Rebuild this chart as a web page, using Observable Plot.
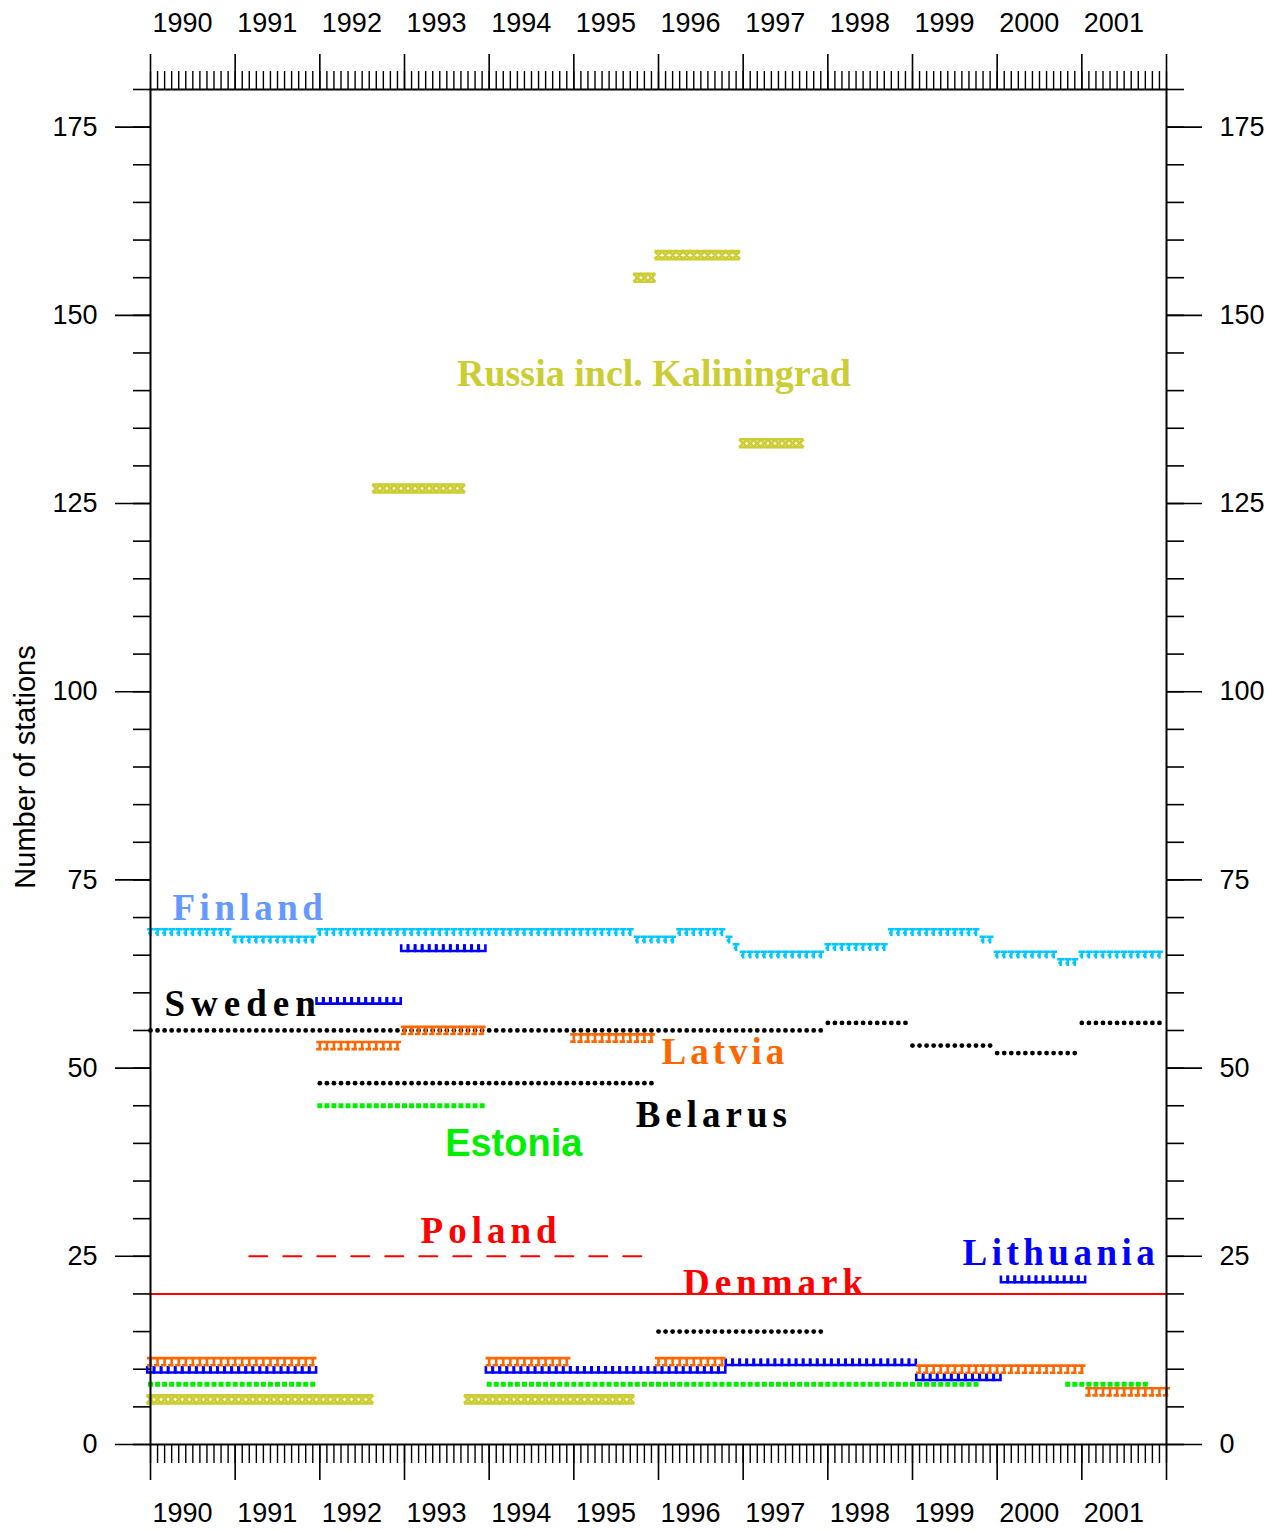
<!DOCTYPE html>
<html>
<head>
<meta charset="utf-8">
<script src="https://cdn.jsdelivr.net/npm/d3@7"></script>
<script src="https://cdn.jsdelivr.net/npm/@observablehq/plot@0.6"></script>
<style>
  body { margin: 0; background: #fff; }
  .sp4 text { letter-spacing: 4px; }
  .sp45 text { letter-spacing: 4.5px; }
  .sp5 text { letter-spacing: 5px; }
  .sp6 text { letter-spacing: 6px; }
</style>
</head>
<body>
<div id="chart"></div>
<script>
// Monthly station counts, one run per [first month, last month, stations]
const finland = [
  ["1990-01", "1990-12", 68], ["1991-01", "1991-12", 67], ["1992-01", "1995-09", 68],
  ["1995-10", "1996-03", 67], ["1996-04", "1996-10", 68], ["1996-11", "1996-11", 67],
  ["1996-12", "1996-12", 66], ["1997-01", "1997-12", 65], ["1998-01", "1998-09", 66],
  ["1998-10", "1999-10", 68], ["1999-11", "1999-12", 67], ["2000-01", "2000-09", 65],
  ["2000-10", "2000-12", 64], ["2001-01", "2001-12", 65]
];
const sweden = [
  ["1990-01", "1997-12", 55], ["1998-01", "1998-12", 56], ["1999-01", "1999-12", 53],
  ["2000-01", "2000-12", 52], ["2001-01", "2001-12", 56]
];
const belarus = [
  ["1992-01", "1995-12", 48], ["1996-01", "1997-12", 15]
];
const estonia = [
  ["1990-01", "1991-12", 8], ["1992-01", "1993-12", 45], ["1994-01", "1999-10", 8],
  ["2000-11", "2001-10", 8]
];
const latvia = [
  ["1990-01", "1991-12", 11], ["1992-01", "1992-12", 53], ["1993-01", "1993-12", 55],
  ["1994-01", "1994-12", 11], ["1995-01", "1995-12", 54], ["1996-01", "1996-10", 11],
  ["1999-02", "2001-01", 10], ["2001-02", "2002-01", 7]
];
const lithuania = [
  ["1990-01", "1991-12", 10], ["1992-01", "1992-12", 59], ["1993-01", "1993-12", 66],
  ["1994-01", "1996-10", 10], ["1996-11", "1999-01", 11], ["1999-02", "2000-01", 9],
  ["2000-02", "2001-01", 22]
];
const russia = [
  ["1990-01", "1992-08", 6], ["1992-09", "1993-09", 127], ["1993-10", "1995-09", 6],
  ["1995-10", "1995-12", 155], ["1996-01", "1996-12", 158], ["1997-01", "1997-09", 133]
];
const poland = [["1991-03", "1995-11", 25]];
const denmark = [["1990-01", "2002-01", 20]];

// Axis ticks
const years = d3.range(1990, 2002);
const yearEdges = d3.range(1990, 2003);
const monthTicks = d3.range(0, 145).map(k => 1990 + k / 12);
const yMajor = [0, 25, 50, 75, 100, 125, 150, 175];
const yMinor = d3.range(0, 181, 5);

// Country names and where each name sits (decimal year, stations)
const names = ["Finland", "Sweden", "Latvia", "Belarus", "Estonia", "Poland", "Denmark", "Lithuania", "Russia incl. Kaliningrad"];
const nameAt = [
  [1990.26, 69.7], [1990.165, 56.9], [1996.035, 50.5], [1995.73, 42.2], [1993.48, 38.3],
  [1993.19, 26.8], [1996.29, 19.8], [1999.59, 23.9], [1993.62, 140.6]
];

// Expand monthly runs into one point per month
function expand(runs) {
  const out = [];
  for (const [a, b, v] of runs) {
    const [ya, ma] = a.split("-").map(Number);
    const [yb, mb] = b.split("-").map(Number);
    for (let k = ya * 12 + ma - 1; k <= yb * 12 + mb - 1; k++) out.push({t: k / 12, value: v});
  }
  return out;
}

// Small stroked glyph markers
const glyph = path => ({draw(c, size) { path(c, Math.sqrt(size / Math.PI)); }});
const tGlyph = glyph((c, h) => {
  c.moveTo(-h, -h); c.lineTo(h, -h);
  c.moveTo(0, -h); c.lineTo(0, h);
  c.moveTo(-h * 0.7, h * 0.1); c.lineTo(h * 0.3, h * 0.1);
});
const iGlyph = glyph((c, h) => {
  c.moveTo(-h, -h); c.lineTo(h, -h);
  c.moveTo(0, -h); c.lineTo(0, h);
  c.moveTo(-h, h); c.lineTo(h * 0.5, h);
});
const uGlyph = glyph((c, h) => {
  c.moveTo(-h, -h); c.lineTo(-h, h); c.lineTo(h, h); c.lineTo(h, -h);
});
const xGlyph = glyph((c, h) => {
  c.moveTo(-h, -h); c.lineTo(h, h);
  c.moveTo(h, -h); c.lineTo(-h, h);
  c.moveTo(-h, -h); c.lineTo(h, -h);
  c.moveTo(-h, h); c.lineTo(h, h);
});

const C = {
  finland: "#00c8ff", finlandName: "#6699ff", latvia: "#ff6600", lithuania: "#0000ff",
  estonia: "#00ee00", russia: "#cccc33", red: "#ff0000", black: "#000000"
};
const serif = "'Liberation Serif', 'Times New Roman', serif";
const sans = "'Liberation Sans', Arial, sans-serif";

const glyphDots = (runs, symbol, color, r = 3.3, sw = 2.4) =>
  Plot.dot(expand(runs), {x: "t", y: "value", symbol, r, stroke: color, strokeWidth: sw, fill: "none"});

const nameMark = (i, color, family, cls, size = 37) =>
  Plot.text([i], {
    x: j => nameAt[j][0], y: j => nameAt[j][1], text: j => names[j],
    fill: color, fontFamily: family, fontSize: size, fontWeight: "bold",
    textAnchor: "start", lineAnchor: "bottom", className: cls
  });

const chart = Plot.plot({
  width: 1282,
  height: 1530,
  marginLeft: 150,
  marginRight: 116,
  marginTop: 89,
  marginBottom: 86,
  x: {domain: [1990, 2002]},
  y: {domain: [0, 180]},
  style: {fontFamily: sans, background: "#fff", color: "#000"},
  marks: [
    // axes: years and months along x, 25s and 5s along y, on all four sides
    Plot.axisX(years, {anchor: "bottom", tickSize: 0, tickPadding: 58, fontSize: 27, textAnchor: "start", dx: 2, tickFormat: d => String(d), label: null}),
    Plot.axisX(years, {anchor: "top", tickSize: 0, tickPadding: 58, fontSize: 27, textAnchor: "start", dx: 2, tickFormat: d => String(d), label: null}),
    Plot.axisX(yearEdges, {anchor: "bottom", tickSize: 36, strokeWidth: 1.6, fill: "none", label: null}),
    Plot.axisX(yearEdges, {anchor: "top", tickSize: 36, strokeWidth: 1.6, fill: "none", label: null}),
    Plot.axisX(monthTicks, {anchor: "bottom", tickSize: 19, strokeWidth: 1.4, fill: "none", label: null}),
    Plot.axisX(monthTicks, {anchor: "top", tickSize: 19, strokeWidth: 1.4, fill: "none", label: null}),
    Plot.axisY(yMajor, {anchor: "left", tickSize: 35, tickPadding: 18, fontSize: 27, strokeWidth: 1.6, label: null}),
    Plot.axisY(yMajor, {anchor: "right", tickSize: 35, tickPadding: 18, fontSize: 27, strokeWidth: 1.6, label: null}),
    Plot.axisY(yMinor, {anchor: "left", tickSize: 17, strokeWidth: 1.6, fill: "none", label: null}),
    Plot.axisY(yMinor, {anchor: "right", tickSize: 17, strokeWidth: 1.6, fill: "none", label: null}),
    Plot.text(["Number of stations"], {frameAnchor: "left", text: d => d, rotate: -90, textAnchor: "middle", dx: -125, fontSize: 29, fill: "#000"}),

    // Denmark and Poland as lines
    Plot.line(expand(denmark), {x: "t", y: "value", stroke: C.red, strokeWidth: 2}),
    Plot.line(expand(poland), {x: "t", y: "value", stroke: C.red, strokeWidth: 2, strokeDasharray: "18,16"}),

    // monthly markers
    glyphDots(russia, xGlyph, C.russia, 4, 2.6),
    Plot.dot(expand(estonia), {x: "t", y: "value", symbol: "square", r: 2.8, fill: C.estonia}),
    glyphDots(lithuania, uGlyph, C.lithuania, 3.3, 2.6),
    Plot.dot(expand(sweden), {x: "t", y: "value", r: 2.4, fill: C.black}),
    Plot.dot(expand(belarus), {x: "t", y: "value", r: 2.4, fill: C.black}),
    glyphDots(latvia, iGlyph, C.latvia, 3.6, 2.6),
    glyphDots(finland, tGlyph, C.finland, 3.4, 2.6),

    // country names
    nameMark(0, C.finlandName, serif, "sp45"),
    nameMark(1, C.black, serif, "sp6"),
    nameMark(2, C.latvia, serif, "sp4"),
    nameMark(3, C.black, serif, "sp5"),
    nameMark(4, C.estonia, sans, "", 38),
    nameMark(5, C.red, serif, "sp5"),
    nameMark(6, C.red, serif, "sp5"),
    nameMark(7, C.lithuania, serif, "sp45"),
    nameMark(8, C.russia, serif, "", 38),

    Plot.frame({stroke: "#000", strokeWidth: 2})
  ]
});

document.getElementById("chart").append(chart);
</script>
</body>
</html>
